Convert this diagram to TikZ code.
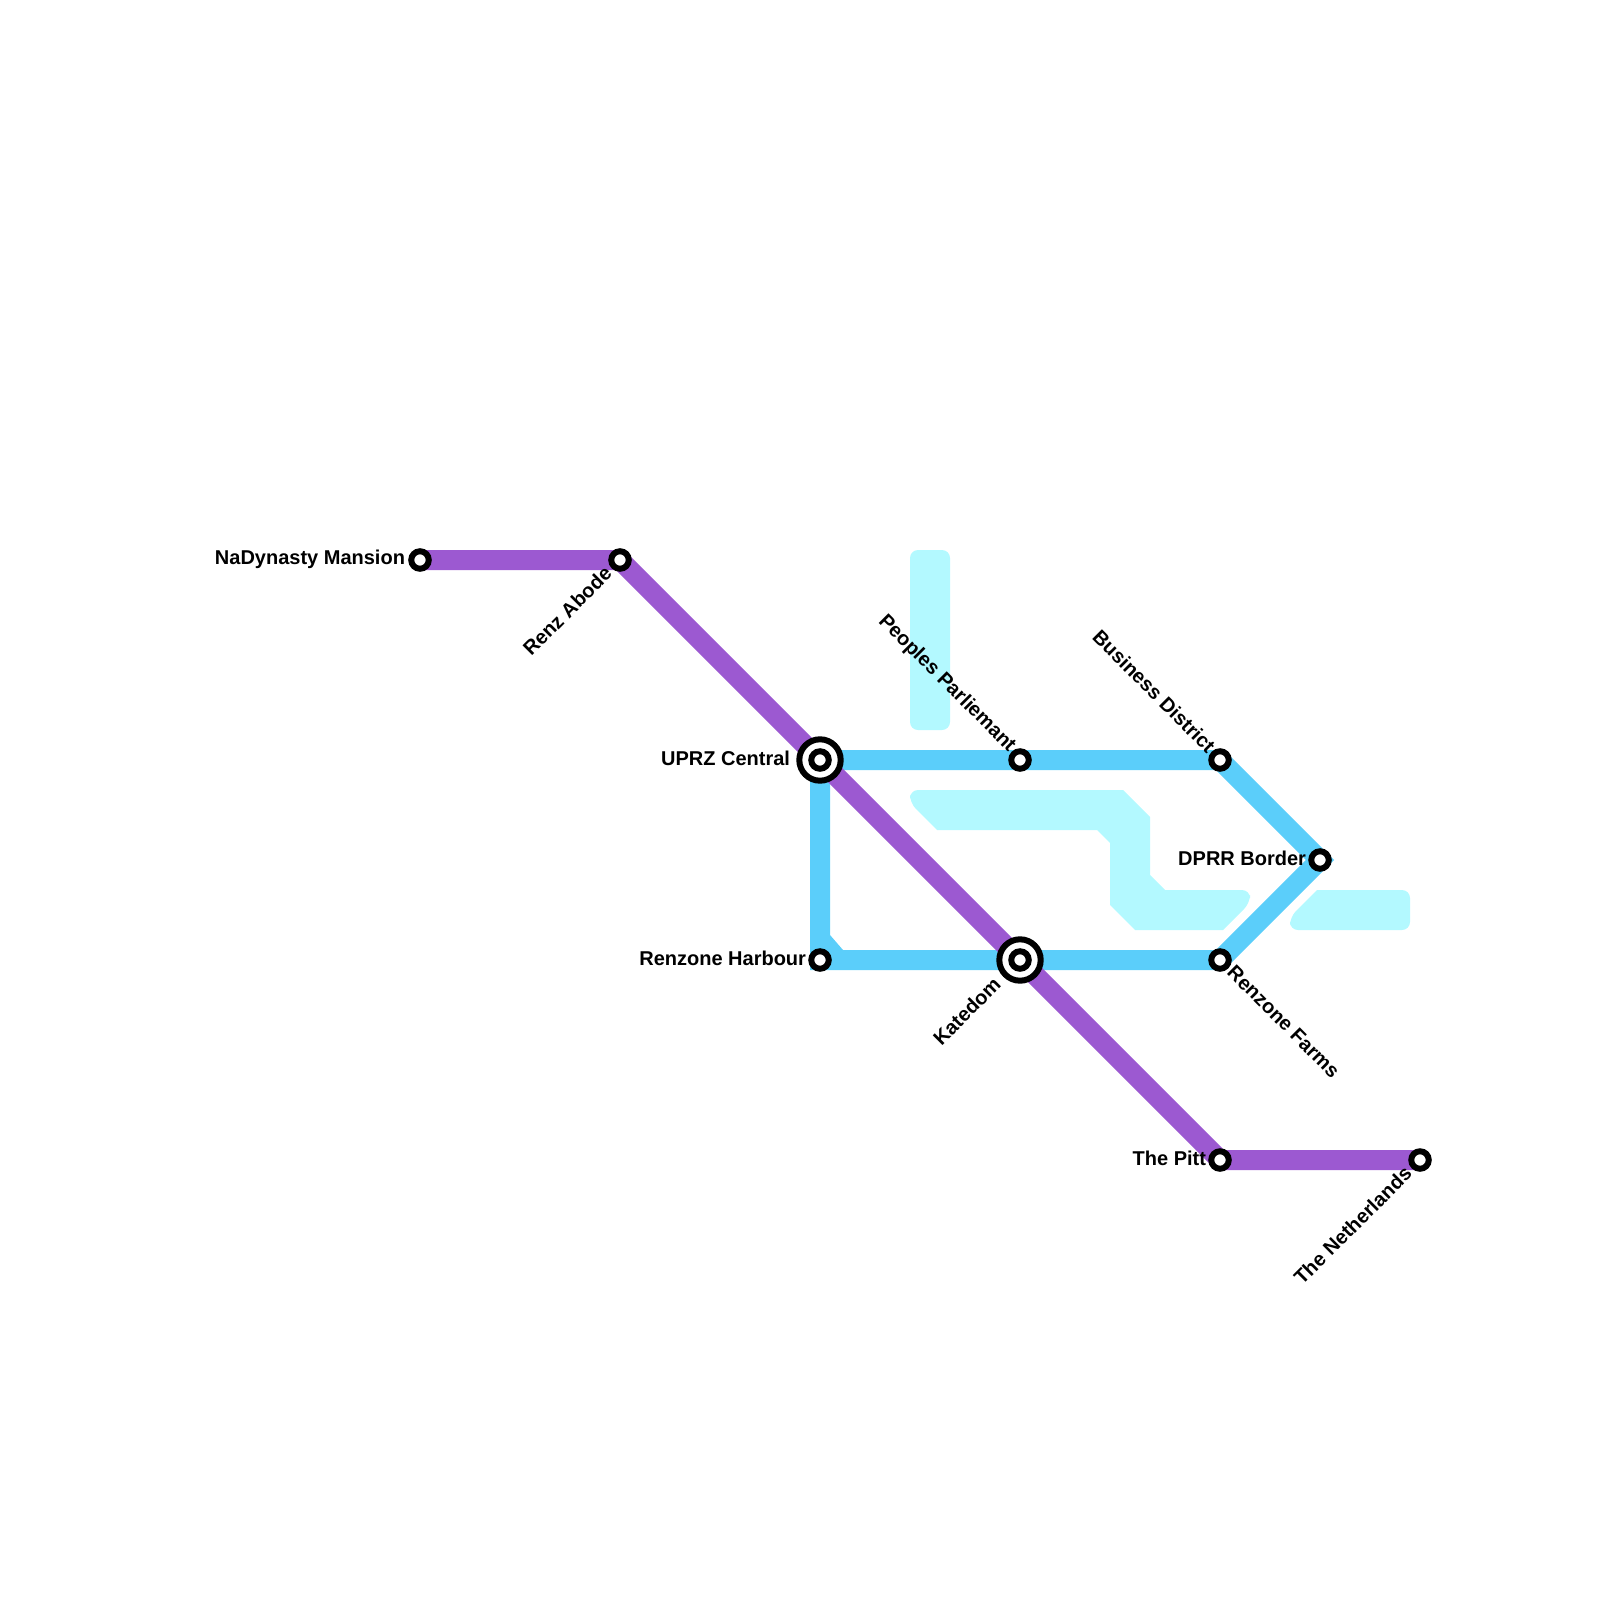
\documentclass[tikz,border=0pt]{standalone}
\usepackage{fontspec}
\setmainfont{Liberation Sans}
\usetikzlibrary{backgrounds}
\definecolor{lineblue}{HTML}{5BCEFA}
\definecolor{linepurple}{HTML}{9C59D1}
\definecolor{lightarea}{HTML}{B3F9FF}
\tikzset{
  stn/.style={circle,draw=black,fill=white,line width=3pt,minimum size=8.75pt,inner sep=0pt,outer sep=0pt},
  hubring/.style={circle,draw=black,fill=white,line width=3pt,minimum size=20.7pt,inner sep=0pt,outer sep=0pt},
  lbl/.style={font=\bfseries\fontsize{10pt}{12pt}\selectfont,inner sep=0pt,outer sep=0pt,text=black},
  blueline/.style={draw=lineblue,line width=10pt,miter limit=10},
  purpleline/.style={draw=linepurple,line width=10pt,miter limit=10},
  area/.style={fill=lightarea,draw=none},
}
\begin{document}
\begin{tikzpicture}[x=0.5pt,y=-0.5pt]
\useasboundingbox (0,0) rectangle (1600,1600);
% stations
\node[hubring] (uprzo) at (820,760) {};
\node[stn] (uprz) at (820,760) {};
\node[hubring] (kateo) at (1020,960) {};
\node[stn] (kate) at (1020,960) {};
\node[stn] (peop) at (1020,760) {};
\node[stn] (busi) at (1220,760) {};
\node[stn] (dprr) at (1320,860) {};
\node[stn] (farm) at (1220,960) {};
\node[stn] (harb) at (820,960) {};
\node[stn] (pitt) at (1220,1160) {};
\node[stn] (neth) at (1420,1160) {};
\node[stn] (nady) at (420,560) {};
\node[stn] (renz) at (620,560) {};
% labels
\node[lbl,anchor=east] (lnady) at (405,559) {NaDynasty Mansion};
\node[lbl,anchor=east,rotate=45] (lrenz) at (608,570) {Renz Abode};
\node[lbl,anchor=east] (luprz) at (790,758) {UPRZ Central};
\node[lbl,anchor=east,rotate=-45] (lpeop) at (1012,749) {Peoples Parliemant};
\node[lbl,anchor=east,rotate=-45] (lbusi) at (1212,749) {Business District};
\node[lbl,anchor=east] (ldprr) at (1306,858) {DPRR Border};
\node[lbl,anchor=east] (lharb) at (806,958) {Renzone Harbour};
\node[lbl,anchor=west,rotate=-45] (lfarm) at (1231,969) {Renzone Farms};
\node[lbl,anchor=east,rotate=45] (lkate) at (997,981) {Katedom};
\node[lbl,anchor=east] (lpitt) at (1206,1158) {The Pitt};
\node[lbl,anchor=east,rotate=45] (lneth) at (1408,1170) {The Netherlands};
\begin{pgfonlayer}{background}
% light areas
\fill[area,rounded corners=4pt] (910,550) -- (950,550) -- (950,730) -- (910,730) -- cycle;
\fill[area] (1000,790) -- (1123,790) -- (1150,817) -- (1150,875) -- (1165,890)
  [rounded corners=4pt] -- (1250,890) -- (1250,903) [sharp corners] -- (1223,930) -- (1135,930) -- (1110,905) -- (1110,843) -- (1097,830) -- (937,830)
  [rounded corners=4pt] -- (910,803) -- (910,790) [sharp corners] -- cycle;
\fill[area] (1350,890) [rounded corners=4pt] -- (1410,890) -- (1410,930) -- (1290,930) -- (1290,917) [sharp corners] -- (1317,890) -- cycle;
% lines
\draw[blueline] (uprz.center) -- (harb.center) -- (kate.center) -- (farm.center) -- (dprr.center) -- (busi.center) -- (peop.center) -- (uprz.center);
\fill[lineblue] (830,935) -- (843,950) -- (830,950) -- cycle;
\draw[purpleline] (nady.center) -- (renz.center) -- (uprz.center) -- (kate.center) -- (pitt.center) -- (neth.center);
\end{pgfonlayer}
\end{tikzpicture}
\end{document}
